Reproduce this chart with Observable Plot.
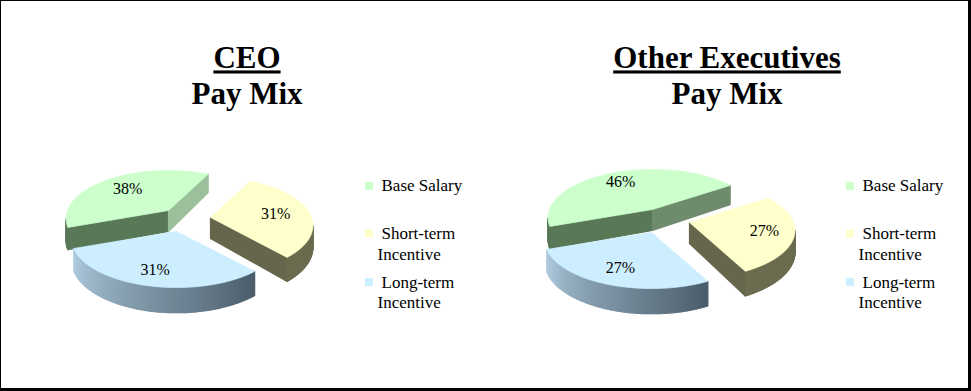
<!DOCTYPE html>
<html><head><meta charset="utf-8">
<script src="https://cdn.jsdelivr.net/npm/d3@7"></script>
<script src="https://cdn.jsdelivr.net/npm/@observablehq/plot@0.6"></script>
<style>
html,body{margin:0;padding:0;background:#fff;overflow:hidden}
svg{display:block}
.ul text{text-decoration:underline}
</style></head><body><div id="chart"></div>
<script>
const categories = ["Base Salary", "Short-term Incentive", "Long-term Incentive"];
const ceoValues = [38, 31, 31];
const execValues = [46, 27, 27];
const ceoTitle = ["CEO", "Pay Mix"];
const execTitle = ["Other Executives", "Pay Mix"];

// Styling / layout of the two pies
const faceColors = ["#ccffcc", "#ffffcc", "#cceeff"];
const pieLayouts = [
  {values: ceoValues, start: 250, rx: [101,101,103],
   apex: [[168,210],[210,217],[176,231]], labelR: [.66,.66,.74],
   cutIn: ["#587858","#66664c","#8aa3b5"], cutOut: ["#9cbf9c","#66664c","#4d5f6d"],
   titleX: 246.5, legendDx: 0},
  {values: execValues, start: 250, rx: [103,104,105],
   apex: [[652,209],[689,222],[651,232]], labelR: [.75,.72,.72],
   cutIn: ["#587858","#66664c","#8aa3b5"], cutOut: ["#6e8b6e","#66664c","#4d5f6d"],
   titleX: 726.5, legendDx: 481}
];
const ry = 46.7, persp = 0.167, depth = 21;
const rimLight = d3.rgb("#b0cde0"), rimDark = d3.rgb("#4a5c6a");
const rimColors = [() => "#587858", () => "#6b6b4f",
  t => d3.interpolateRgb(rimDark, rimLight)(t)];

function project(apex, rx, thetaDeg, r) {
  const a = thetaDeg * Math.PI / 180, u = r * Math.sin(a), v = r * Math.cos(a);
  const s = 1 / (1 + persp * v);
  return {x: apex[0] + rx * u * s, y: apex[1] - ry * v * s, d: depth * s};
}

const walls = [], faces = [], percentLabels = [];
let poly = 0;
pieLayouts.forEach(p => {
  const arcs = d3.pie().sort(null).startAngle(p.start * Math.PI / 180)
    .endAngle((p.start + 360) * Math.PI / 180)(p.values);
  arcs.forEach((arc, i) => {
    const a0 = arc.startAngle * 180 / Math.PI, a1 = arc.endAngle * 180 / Math.PI;
    const apex = p.apex[i], rx = p.rx[i];
    const steps = Math.ceil(a1 - a0);
    const angles = d3.range(steps + 1).map(k => a0 + (a1 - a0) * k / steps);
    const addWall = (A, B, color) => {
      if (B.x >= A.x) return;
      const id = poly++;
      [A, B, {x: B.x, y: B.y + B.d}, {x: A.x, y: A.y + A.d}]
        .forEach(q => walls.push({x: q.x, y: q.y, id, color}));
    };
    const centre = project(apex, rx, 0, 0);
    const first = project(apex, rx, a0, 1), last = project(apex, rx, a1, 1);
    addWall(centre, first, p.cutIn[i]);
    addWall(last, centre, p.cutOut[i]);
    angles.slice(1).forEach((t, k) => {
      const A = project(apex, rx, angles[k], 1), B = project(apex, rx, t, 1);
      const frac = (angles[k] - a0) / (a1 - a0);
      addWall(A, B, rimColors[i](Math.max(0, Math.min(1, frac))));
    });
    const id = poly++;
    [centre, ...angles.map(t => project(apex, rx, t, 1)), centre]
      .forEach(q => faces.push({x: q.x, y: q.y, id, color: faceColors[i]}));
    const m = project(apex, rx, (a0 + a1) / 2, p.labelR[i]);
    percentLabels.push({x: m.x, y: m.y, text: p.values[i] + "%"});
  });
});

const titleTop = pieLayouts.map((p, k) => ({x: p.titleX, y: 58, text: [ceoTitle, execTitle][k][0]}));
const titleBottom = pieLayouts.map((p, k) => ({x: p.titleX, y: 94, text: [ceoTitle, execTitle][k][1]}));

const legendRows = [
  {y: 185, sy: 185.5, lines: [{t: "Base Salary", dx: 0, dy: 0}]},
  {y: 233, sy: 233, lines: [{t: "Short-term", dx: 0, dy: 0}, {t: "Incentive", dx: -4, dy: 21}]},
  {y: 282, sy: 281.5, lines: [{t: "Long-term", dx: 0, dy: 0}, {t: "Incentive", dx: -4, dy: 20}]}
];
const legendText = [], legendSwatches = [];
pieLayouts.forEach(p => legendRows.forEach((r, i) => {
  legendSwatches.push({x: 368.5 + p.legendDx, y: r.sy, color: faceColors[i], name: categories[i]});
  r.lines.forEach(l => legendText.push({x: 381 + p.legendDx + l.dx, y: r.y + l.dy + (p.legendDx ? 0.5 : 0), text: l.t}));
}));

const serif = "'Liberation Serif', serif";
const plot = Plot.plot({
  width: 971, height: 391, margin: 0,
  x: {domain: [0, 971], range: [0, 971], axis: null},
  y: {domain: [0, 391], range: [0, 391], axis: null},
  color: {type: "identity"},
  marks: [
    Plot.rect([{x1: 0, x2: 971, y1: 0, y2: 391}], {x1: "x1", x2: "x2", y1: "y1", y2: "y2", fill: "#000"}),
    Plot.rect([{x1: 1, x2: 968, y1: 1, y2: 388}], {x1: "x1", x2: "x2", y1: "y1", y2: "y2", fill: "#fff"}),
    Plot.line(walls, {x: "x", y: "y", z: "id", fill: "color", stroke: "color", strokeWidth: 1.2, curve: "linear-closed"}),
    Plot.line(faces, {x: "x", y: "y", z: "id", fill: "color", stroke: "color", strokeWidth: 0.7, curve: "linear-closed"}),
    Plot.text(percentLabels, {x: "x", y: "y", text: "text", fontFamily: serif, fontSize: 16, fill: "#000"}),
    Plot.text(titleTop, {x: "x", y: "y", text: "text", fontFamily: serif, fontSize: 31, fontWeight: "bold", fill: "#000", className: "ul"}),
    Plot.text(titleBottom, {x: "x", y: "y", text: "text", fontFamily: serif, fontSize: 31, fontWeight: "bold", fill: "#000"}),
    Plot.dot(legendSwatches, {x: "x", y: "y", symbol: "square", r: 4.5, fill: "color", title: "name"}),
    Plot.text(legendText, {x: "x", y: "y", text: "text", textAnchor: "start", fontFamily: serif, fontSize: 17, fill: "#000"})
  ]
});
document.getElementById("chart").append(plot);
</script></body></html>
